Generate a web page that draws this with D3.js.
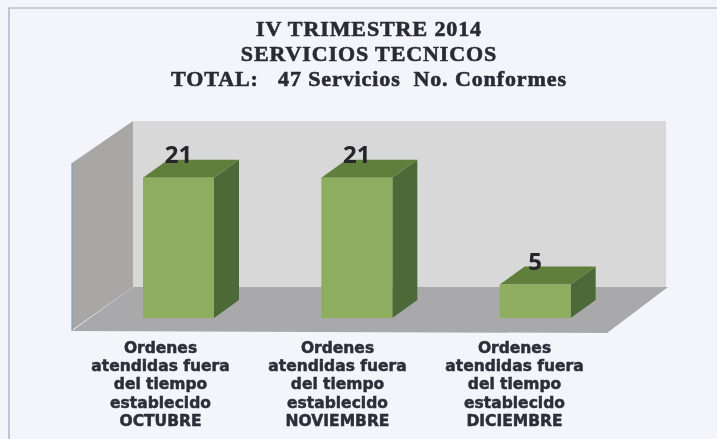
<!DOCTYPE html>
<html>
<head>
    <meta charset="utf-8">
    <script src="https://cdn.jsdelivr.net/npm/d3@7"></script>
    <style>
        body { margin: 0; background: #f3f5fb; overflow: hidden; }
    </style>
</head>

<body>

    <div id="graph"></div>

<script>

const months = ["OCTUBRE", "NOVIEMBRE", "DICIEMBRE"];
const values = [21, 21, 5];
const labelLines = ["Ordenes", "atendidas fuera", "del tiempo", "establecido"];
const titleLines = ["IV TRIMESTRE 2014", "SERVICIOS TECNICOS", "TOTAL:\u00a0\u00a0 47 Servicios\u00a0 No. Conformes"];

const width = 717, height = 439;

const svg = d3.select("#graph")
  .append("svg")
    .attr("width", width)
    .attr("height", height);

// the reference is a scan, so everything is a bit soft
const soft = svg.append("defs").append("filter").attr("id", "soft");
soft.append("feGaussianBlur").attr("stdDeviation", 0.6);

const root = svg.append("g").attr("filter", "url(#soft)");

// frame, open on the right and at the bottom
root.append("path")
    .attr("d", "M9,439V8H717")
    .attr("fill", "none")
    .attr("stroke", "#9aa8bd")
    .attr("stroke-width", 1.2);

// title
root.append("g").selectAll("text")
  .data(titleLines)
  .join("text")
    .attr("x", 369)
    .attr("y", (d, i) => 36 + i * 25)
    .attr("text-anchor", "middle")
    .style("font-family", "'Liberation Serif', serif")
    .style("font-weight", "bold")
    .style("font-size", "22px")
    .style("letter-spacing", "0.9px")
    .style("fill", "#2b2c34")
    .style("stroke", "#2b2c34")
    .style("stroke-width", 0.6)
    .text(d => d);

// scales
const floorFront = 330, wallDx = 61, wallDy = 43;
const x = d3.scaleBand().domain(months).range([72, 607]);
// labels sit a little tighter than the bars in the reference
const xLabel = d3.scaleBand().domain(months).range([72, 603]);
const y = d3.scaleLinear().domain([0, 25]).range([floorFront, floorFront - 167]);

// walls and floor
const x0 = x.range()[0], x1 = x.range()[1];
const yTop = y(25);
const poly = (pts, fill) => root.append("polygon")
    .attr("points", pts.map(p => p.join(",")).join(" "))
    .attr("fill", fill);

poly([[x0 + wallDx, yTop - wallDy + 1], [x1 + wallDx - 2, yTop - wallDy + 1], [x1 + wallDx - 2, floorFront - wallDy], [x0 + wallDx, floorFront - wallDy]], "#d8d8d9");
poly([[x0, yTop], [x0 + wallDx, yTop - wallDy + 1], [x0 + wallDx, floorFront - wallDy], [x0, floorFront]], "#a9a7a6");
poly([[x0, floorFront + 1], [x0 + wallDx, floorFront - wallDy], [x1 + wallDx, floorFront - wallDy], [x1, floorFront + 3]], "#a9a9ac");

// left edge of the side wall has a blue tint in the scan
root.append("line")
    .attr("x1", x0).attr("y1", yTop)
    .attr("x2", x0).attr("y2", floorFront + 1)
    .attr("stroke", "#7f9cc8")
    .attr("stroke-width", 1.2);

// bars
const barW = 71, barShift = 71, dx = 25, dy = 18, barLift = 12;
const bars = root.append("g").selectAll("g")
  .data(months)
  .join("g");

bars.each(function(m, i) {
    const g = d3.select(this);
    const left = x(m) + barShift;
    const right = left + barW;
    const base = y(0) - barLift;
    const top = y(values[i]) - barLift;
    // side
    g.append("polygon")
        .attr("points", `${right},${top} ${right + dx},${top - dy} ${right + dx},${base - dy} ${right},${base}`)
        .attr("fill", "#4c6b38");
    // top
    g.append("polygon")
        .attr("points", `${left},${top} ${left + dx},${top - dy} ${right + dx},${top - dy} ${right},${top}`)
        .attr("fill", "#617f3c");
    // front
    g.append("rect")
        .attr("x", left)
        .attr("y", top)
        .attr("width", barW)
        .attr("height", base - top)
        .attr("fill", "#8fad5f");
    // value
    g.append("text")
        .attr("x", left + barW / 2)
        .attr("y", top - 14.5)
        .attr("text-anchor", "middle")
        .style("font-family", "'Noto Sans', sans-serif")
        .style("font-weight", "bold")
        .style("font-size", "24px")
        .style("fill", "#25272a")
        .text(values[i]);
});

// category labels on a bottom axis
const axis = root.append("g")
    .attr("transform", `translate(0,${floorFront})`)
    .call(d3.axisBottom(xLabel).tickSize(0));
axis.select(".domain").remove();
axis.selectAll("text")
    .style("font-family", "'DejaVu Sans', sans-serif")
    .style("font-weight", "bold")
    .style("font-size", "15.5px")
    .style("fill", "#2d2e38")
    .style("stroke", "#2d2e38")
    .style("stroke-width", 0.5)
    .attr("y", 0)
    .attr("dy", 0)
    .each(function(m) {
        const t = d3.select(this).text(null);
        labelLines.concat([m]).forEach((line, i) => {
            t.append("tspan")
                .attr("x", 0)
                .attr("y", 23 + i * 18.2)
                .text(line);
        });
    });

</script>

</body>
</html>
